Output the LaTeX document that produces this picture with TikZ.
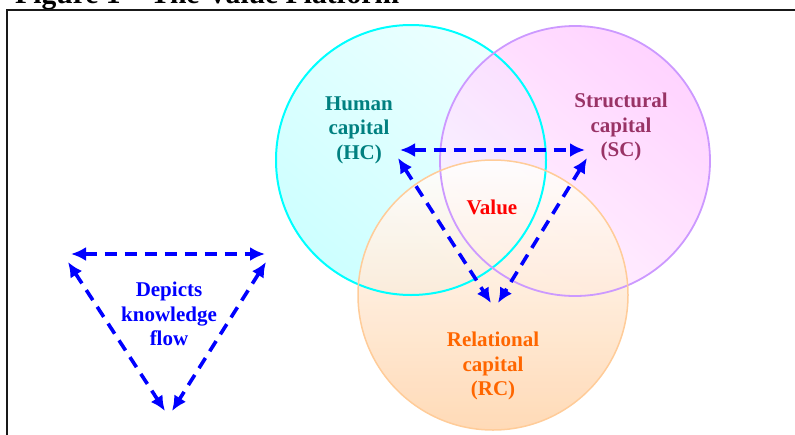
\documentclass[tikz,border=0pt]{standalone}
\usepackage{fontspec}
\setmainfont{Liberation Serif}
\usetikzlibrary{arrows.meta}

\definecolor{hcline}{RGB}{0,255,255}
\definecolor{hcfillA}{RGB}{205,255,255}
\definecolor{hcfillB}{RGB}{236,255,255}
\definecolor{scline}{RGB}{204,153,255}
\definecolor{scfillA}{RGB}{255,200,255}
\definecolor{scfillB}{RGB}{255,242,255}
\definecolor{rcline}{RGB}{255,204,153}
\definecolor{rcfillA}{RGB}{255,214,175}
\definecolor{hctext}{RGB}{0,128,128}
\definecolor{sctext}{RGB}{153,51,102}
\definecolor{rctext}{RGB}{255,102,0}
\definecolor{flowblue}{RGB}{0,0,255}

\tikzset{
  capital/.style={circle, inner sep=0pt, minimum size=270pt},
  label/.style={align=center, inner sep=0pt,
    font=\fontsize{21}{24.5}\selectfont\bfseries},
  flow/.style={draw=flowblue, line width=3.6pt, dash pattern=on 12pt off 8pt,
    {Latex[length=15pt,width=14pt]}-{Latex[length=15pt,width=14pt]}},
}

\begin{document}
\begin{tikzpicture}[x=1pt,y=-1pt]
\useasboundingbox (0,0) rectangle (795,434);

% caption above the framed figure
\node[anchor=base west, inner sep=0pt, font=\fontsize{29.6}{32}\selectfont\bfseries]
  (caption) at (15,3) {Figure 1 -- The Value Platform};

% frame
\draw[line width=2pt, black!90] (7,440) -- (7,10) -- (800,10);

% the three capital circles: tinted fills first, outlines on top
\node[capital, shade, top color=hcfillB, bottom color=hcfillA, shading angle=-40]
  (hc) at (411,160) {};
\node[capital, shade, top color=scfillA, bottom color=scfillB, shading angle=-40,
      fill opacity=0.8] (sc) at (575,161) {};
\node[capital, shade, top color=white, bottom color=rcfillA, fill opacity=0.9]
  (rc) at (493,295) {};

\draw[hcline, line width=2pt] (hc) circle[radius=135pt];
\draw[scline, line width=1.8pt] (sc) circle[radius=135pt];
\draw[rcline, line width=1.5pt] (rc) circle[radius=135pt];

% labels
\node[label, text=hctext] (hct) at (359,130) {Human\\capital\\(HC)};
\node[label, text=sctext] (sct) at (621,127) {Structural\\capital\\(SC)};
\node[label, text=rctext] (rct) at (493,366) {Relational\\capital\\(RC)};
\node[label, text=red] (val) at (492,207) {Value};
\node[label, text=flowblue] (leg) at (169,314) {Depicts\\knowledge\\flow};

% knowledge flow between the capitals
\coordinate (hcL) at (400,150);
\coordinate (scR) at (585,150);
\coordinate (hcD) at (398,158);
\coordinate (rcL) at (491,303);
\coordinate (scD) at (587,158);
\coordinate (rcR) at (498,303);
\draw[flow] (hcL) -- (scR);
\draw[flow] (hcD) -- (rcL);
\draw[flow] (scD) -- (rcR);

% key triangle
\coordinate (kL) at (71,254);
\coordinate (kR) at (265,254);
\coordinate (kLd) at (68,262);
\coordinate (kBl) at (165,411);
\coordinate (kRd) at (266,262);
\coordinate (kBr) at (172,411);
\draw[flow] (kL) -- (kR);
\draw[flow] (kLd) -- (kBl);
\draw[flow] (kRd) -- (kBr);
\end{tikzpicture}
\end{document}
